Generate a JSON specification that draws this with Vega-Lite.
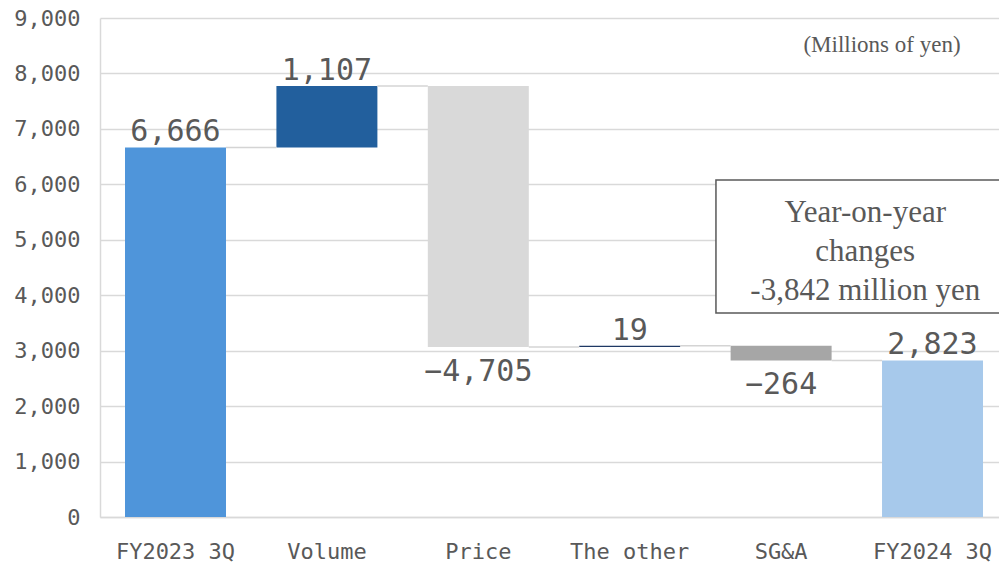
{
  "$schema": "https://vega.github.io/schema/vega-lite/v6.json",
  "autosize": "none",
  "width": 899,
  "height": 499,
  "padding": {"left": 100, "top": 18, "right": 0, "bottom": 51},
  "background": "white",
  "config": {
    "view": {"stroke": null},
    "font": "DejaVu Sans Mono"
  },
  "datasets": {
    "steps": [
      {"cat": "FY2023 3Q", "start": 0, "end": 6666, "delta": 6666, "pos": "above"},
      {"cat": "Volume", "start": 6666, "end": 7773, "delta": 1107, "pos": "above"},
      {"cat": "Price", "start": 7773, "end": 3068, "delta": -4705, "pos": "below"},
      {"cat": "The other", "start": 3068, "end": 3087, "delta": 19, "pos": "above"},
      {"cat": "SG&A", "start": 3087, "end": 2823, "delta": -264, "pos": "below"},
      {"cat": "FY2024 3Q", "start": 0, "end": 2823, "delta": 2823, "pos": "above"}
    ],
    "links": [
      {"from": "FY2023 3Q", "to": "Volume", "level": 6666},
      {"from": "Volume", "to": "Price", "level": 7773},
      {"from": "Price", "to": "The other", "level": 3068},
      {"from": "The other", "to": "SG&A", "level": 3087},
      {"from": "SG&A", "to": "FY2024 3Q", "level": 2823}
    ],
    "note": [
      {"left": "The other", "right": "FY2024 3Q", "lo": 3680, "hi": 6078, "first": 5483, "text": "Year-on-year\nchanges\n-3,842 million yen"}
    ],
    "unit": [
      {"cat": "FY2024 3Q", "y": 8513, "text": "(Millions of yen)"}
    ]
  },
  "encoding": {
    "x": {
      "field": "cat",
      "type": "nominal",
      "sort": null,
      "scale": {
        "domain": ["FY2023 3Q", "Volume", "Price", "The other", "SG&A", "FY2024 3Q"],
        "paddingInner": 0.333,
        "paddingOuter": 0.1354,
        "align": 0.61
      },
      "axis": {
        "title": null,
        "labelAngle": 0,
        "labelFontSize": 22,
        "labelColor": "#595959",
        "labelPadding": 24,
        "ticks": false,
        "domainColor": "#d9d9d9",
        "domainWidth": 1.5
      }
    }
  },
  "layer": [
    {
      "data": {"name": "steps"},
      "mark": {"type": "bar"},
      "encoding": {
        "y": {
          "field": "start",
          "type": "quantitative",
          "scale": {"domain": [0, 9000], "nice": false},
          "axis": {
            "title": null,
            "values": [0, 1000, 2000, 3000, 4000, 5000, 6000, 7000, 8000, 9000],
            "labelFontSize": 22,
            "labelColor": "#595959",
            "labelPadding": 20,
            "ticks": false,
            "domainColor": "#d9d9d9",
            "domainWidth": 1.5,
            "gridColor": "#d9d9d9",
            "gridWidth": 1.5
          }
        },
        "y2": {"field": "end"},
        "color": {
          "field": "cat",
          "type": "nominal",
          "legend": null,
          "scale": {
            "domain": ["FY2023 3Q", "Volume", "Price", "The other", "SG&A", "FY2024 3Q"],
            "range": ["#4f95da", "#225f9d", "#d9d9d9", "#1f3864", "#a6a6a6", "#a7c9eb"]
          }
        }
      }
    },
    {
      "data": {"name": "links"},
      "mark": {"type": "rule", "color": "#d4d4d4", "strokeWidth": 1.5},
      "encoding": {
        "x": {"field": "from", "type": "nominal", "bandPosition": 1},
        "x2": {"field": "to", "bandPosition": 0},
        "y": {"field": "level", "type": "quantitative"}
      }
    },
    {
      "data": {"name": "note"},
      "mark": {"type": "rect", "fill": "white", "stroke": "#595959", "strokeWidth": 1.5, "clip": true},
      "encoding": {
        "x": {"field": "left", "type": "nominal", "bandPosition": 1.354},
        "x2": {"field": "right", "bandPosition": 1.5},
        "y": {"field": "lo", "type": "quantitative"},
        "y2": {"field": "hi"}
      }
    },
    {
      "data": {"name": "note"},
      "mark": {
        "type": "text",
        "font": "Liberation Serif",
        "fontSize": 31,
        "lineHeight": 39,
        "color": "#595959",
        "align": "center",
        "baseline": "middle",
        "lineBreak": "\n"
      },
      "encoding": {
        "x": {"field": "right", "type": "nominal", "bandPosition": -0.166},
        "y": {"field": "first", "type": "quantitative"},
        "text": {"field": "text"}
      }
    },
    {
      "data": {"name": "unit"},
      "mark": {
        "type": "text",
        "font": "Liberation Serif",
        "fontSize": 23,
        "color": "#595959",
        "align": "center",
        "baseline": "middle"
      },
      "encoding": {
        "x": {"field": "cat", "type": "nominal", "bandPosition": 0.0},
        "y": {"field": "y", "type": "quantitative"},
        "text": {"field": "text"}
      }
    },
    {
      "data": {"name": "steps"},
      "transform": [{"filter": "datum.pos === 'above'"}],
      "mark": {"type": "text", "fontSize": 30, "color": "#595959", "baseline": "bottom", "dy": 0},
      "encoding": {
        "y": {"field": "end", "type": "quantitative"},
        "text": {"field": "delta", "type": "quantitative", "format": ",d"}
      }
    },
    {
      "data": {"name": "steps"},
      "transform": [{"filter": "datum.pos === 'below'"}],
      "mark": {"type": "text", "fontSize": 30, "color": "#595959", "baseline": "top", "dy": 10},
      "encoding": {
        "y": {"field": "end", "type": "quantitative"},
        "text": {"field": "delta", "type": "quantitative", "format": ",d"}
      }
    }
  ]
}
